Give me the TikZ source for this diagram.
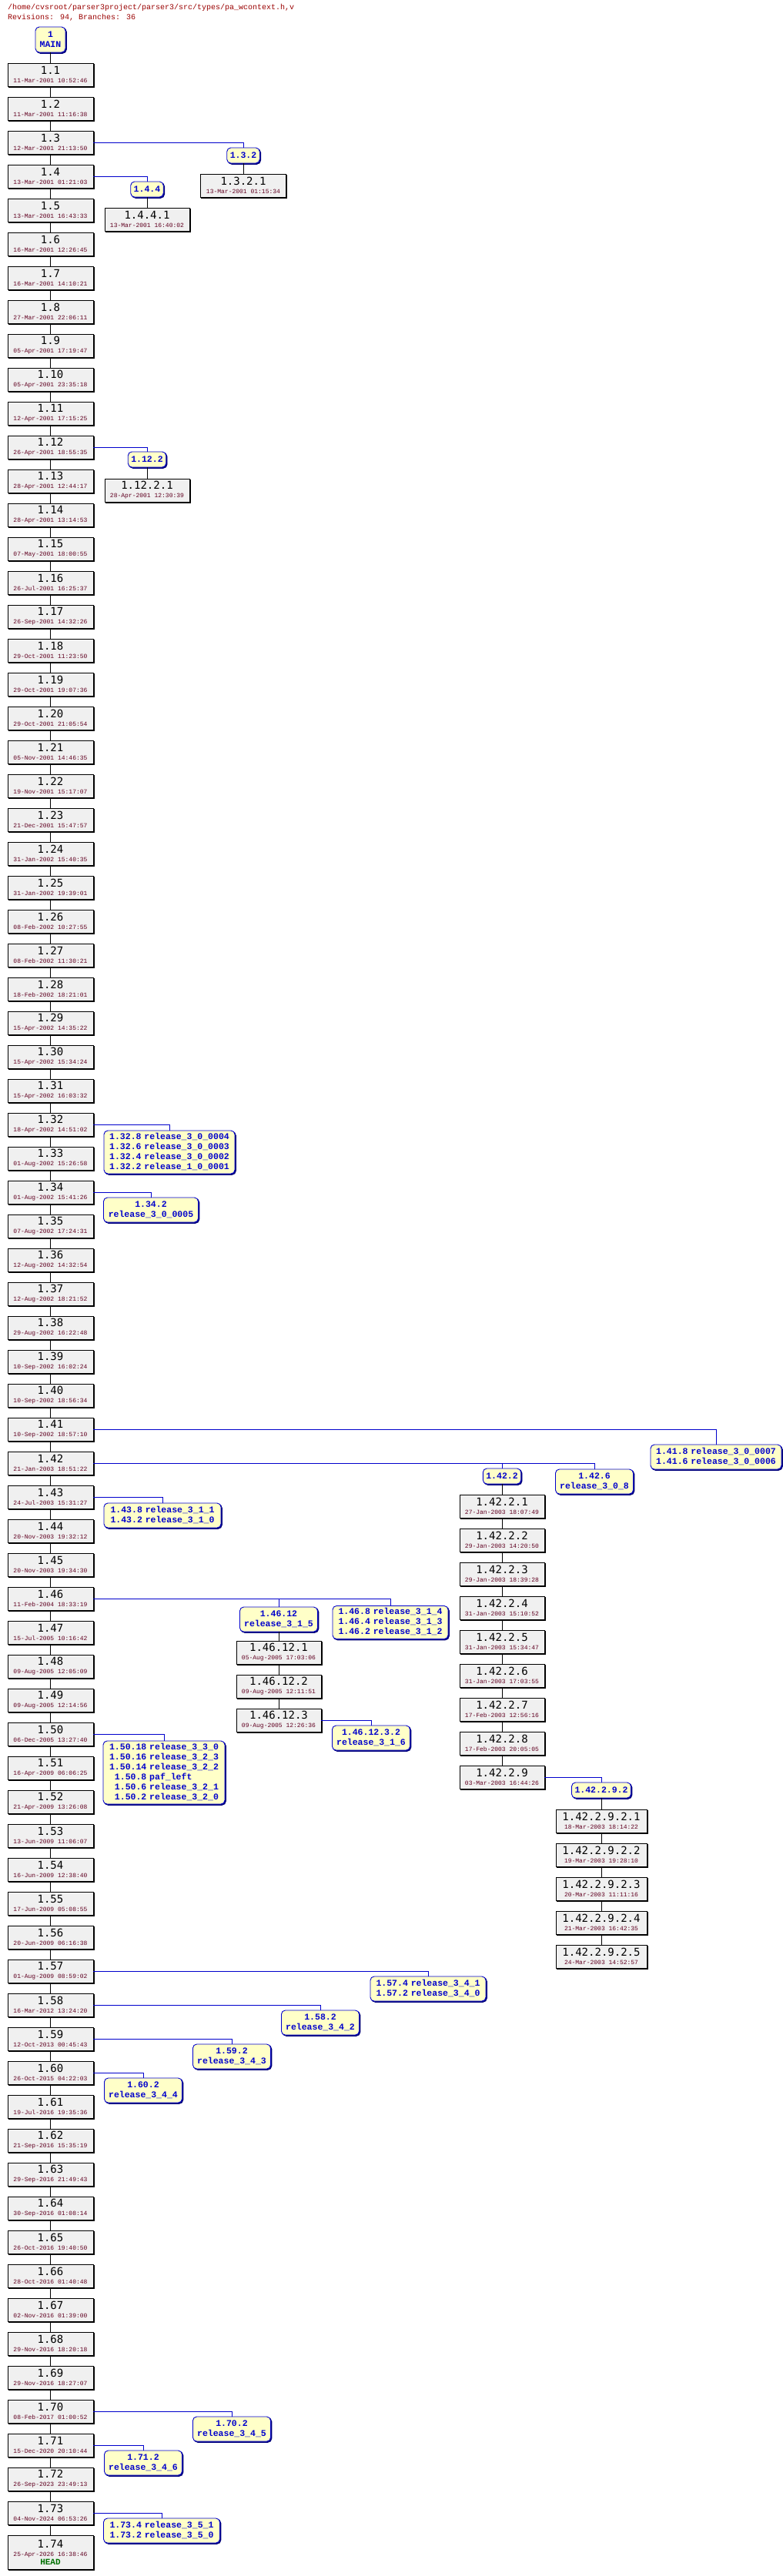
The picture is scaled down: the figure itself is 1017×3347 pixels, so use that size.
\documentclass[tikz,border=0pt]{standalone}
\usepackage{fontspec}
\newfontfamily\monof{Liberation Mono}
\newfontfamily\revf{DejaVu Sans Mono}
\definecolor{datecol}{HTML}{600020}
\definecolor{titlecol}{HTML}{990000}
\definecolor{tagfill}{HTML}{FFFFC8}
\definecolor{tagblue}{HTML}{0000CC}
\definecolor{revfill}{HTML}{F0F0F0}
\definecolor{headgreen}{HTML}{007000}
\newcommand\revtxt[2]{{\revf\fontsize{14}{15}\selectfont #1}\\[-1pt]{\monof\fontsize{8}{9}\selectfont\color{datecol}#2}}
\tikzset{
  revbox/.style={draw=black, line width=0.9pt, fill=revfill, inner sep=0pt, align=center,
    minimum height=30pt, minimum width=111pt,
    preaction={draw=black, fill=black, line width=0.9pt, transform canvas={shift={(1.3pt,-1.3pt)}}}},
  tagbox/.style={draw=tagblue, line width=0.9pt, fill=tagfill, rounded corners=5pt, inner xsep=4pt, inner ysep=2pt,
    align=center, text=tagblue, font=\monof\bfseries\fontsize{11.5}{13}\selectfont, minimum height=20pt,
    preaction={draw=tagblue!60!black, fill=tagblue!60!black, rounded corners=5pt, line width=0.9pt, transform canvas={shift={(1.3pt,-1.3pt)}}}},
  trunk/.style={draw=black, line width=0.8pt},
  br/.style={draw=tagblue, line width=0.8pt},
}
\newcommand\tagtab[1]{\begin{tabular}{@{}r@{\,\,}l@{}}#1\end{tabular}}
\begin{document}
\begin{tikzpicture}[x=1pt,y=-1pt]
\useasboundingbox (0,0) rectangle (1017,3347);
\node[anchor=north west, inner sep=0pt, align=left, text=titlecol, font=\monof\fontsize{10}{13}\selectfont] (title) at (10,5)
  {/home/cvsroot/parser3project/parser3/src/types/pa\_wcontext.h,v\\Revisions: 94, Branches: 36};
\node[tagbox, minimum width=39pt, minimum height=33pt] (main) at (65.5,51.5) {1\\MAIN};
\foreach \k/\d in {1/11-Mar-2001 10:52:46,2/11-Mar-2001 11:16:38,3/12-Mar-2001 21:13:50,4/13-Mar-2001 01:21:03,
5/13-Mar-2001 16:43:33,6/16-Mar-2001 12:26:45,7/16-Mar-2001 14:10:21,8/27-Mar-2001 22:06:11,9/05-Apr-2001 17:19:47,
10/05-Apr-2001 23:35:18,11/12-Apr-2001 17:15:25,12/26-Apr-2001 18:55:35,13/28-Apr-2001 12:44:17,14/28-Apr-2001 13:14:53,
15/07-May-2001 18:00:55,16/26-Jul-2001 16:25:37,17/26-Sep-2001 14:32:26,18/29-Oct-2001 11:23:50,19/29-Oct-2001 19:07:36,
20/29-Oct-2001 21:05:54,21/05-Nov-2001 14:46:35,22/19-Nov-2001 15:17:07,23/21-Dec-2001 15:47:57,24/31-Jan-2002 15:40:35,
25/31-Jan-2002 19:39:01,26/08-Feb-2002 10:27:55,27/08-Feb-2002 11:30:21,28/18-Feb-2002 18:21:01,29/15-Apr-2002 14:35:22,
30/15-Apr-2002 15:34:24,31/15-Apr-2002 16:03:32,32/18-Apr-2002 14:51:02,33/01-Aug-2002 15:26:58,34/01-Aug-2002 15:41:26,
35/07-Aug-2002 17:24:31,36/12-Aug-2002 14:32:54,37/12-Aug-2002 18:21:52,38/29-Aug-2002 16:22:48,39/10-Sep-2002 16:02:24,
40/10-Sep-2002 18:56:34,41/10-Sep-2002 18:57:10,42/21-Jan-2003 18:51:22,43/24-Jul-2003 15:31:27,44/20-Nov-2003 19:32:12,
45/20-Nov-2003 19:34:30,46/11-Feb-2004 18:33:19,47/15-Jul-2005 10:16:42,48/09-Aug-2005 12:05:09,49/09-Aug-2005 12:14:56,
50/06-Dec-2005 13:27:40,51/16-Apr-2009 06:06:25,52/21-Apr-2009 13:26:08,53/13-Jun-2009 11:06:07,54/16-Jun-2009 12:38:40,
55/17-Jun-2009 05:08:55,56/20-Jun-2009 06:16:38,57/01-Aug-2009 08:59:02,58/16-Mar-2012 13:24:20,59/12-Oct-2013 00:45:43,
60/26-Oct-2015 04:22:03,61/19-Jul-2016 19:35:36,62/21-Sep-2016 15:35:19,63/29-Sep-2016 21:49:43,64/30-Sep-2016 01:08:14,
65/26-Oct-2016 19:40:50,66/28-Oct-2016 01:40:48,67/02-Nov-2016 01:39:00,68/29-Nov-2016 18:20:18,69/29-Nov-2016 18:27:07,
70/08-Feb-2017 01:00:52,71/15-Dec-2020 20:10:44,72/26-Sep-2023 23:49:13,73/04-Nov-2024 06:53:26}
  {\node[revbox] (t\k) at (65.5,{97+(\k-1)*44}) {\revtxt{1.\k}{\d}};}
\node[revbox, minimum height=44pt] (t74) at (65.5,3316) {\revtxt{1.74}{25-Apr-2026 16:38:46}\\[-1pt]{\monof\bfseries\fontsize{11}{12}\selectfont\color{headgreen}HEAD}};
\draw[trunk] (main) -- (t1);
\foreach \k [remember=\k as \p (initially 1)] in {2,...,74} {\draw[trunk] (t\p) -- (t\k);}
% branch 1.3
\node[tagbox] (b132) at (316,202) {1.3.2};
\node[revbox] (r1321) at (316,241) {\revtxt{1.3.2.1}{13-Mar-2001 01:15:34}};
\draw[br] (t3.east) -| (b132.north); \draw[trunk] (b132) -- (r1321);
% 1.4
\node[tagbox] (b144) at (191,246) {1.4.4};
\node[revbox, minimum width=110pt] (r1441) at (191,285) {\revtxt{1.4.4.1}{13-Mar-2001 16:40:02}};
\draw[br] (t4.east) -| (b144.north); \draw[trunk] (b144) -- (r1441);
% 1.12
\node[tagbox] (b1122) at (191,597) {1.12.2};
\node[revbox, minimum width=110pt] (r11221) at (191,637) {\revtxt{1.12.2.1}{28-Apr-2001 12:30:39}};
\draw[br] (t12.east) -| (b1122.north); \draw[trunk] (b1122) -- (r11221);
% 1.32
\node[tagbox, minimum width=170pt] (b132t) at (220,1497) {\tagtab{1.32.8 & release\_3\_0\_0004\\1.32.6 & release\_3\_0\_0003\\1.32.4 & release\_3\_0\_0002\\1.32.2 & release\_1\_0\_0001}};
\draw[br] (t32.east) -| (b132t.north);
% 1.34
\node[tagbox, minimum width=123pt, minimum height=32pt] (b1342) at (196,1572) {1.34.2\\release\_3\_0\_0005};
\draw[br] (t34.east) -| (b1342.north);
% 1.41
\node[tagbox, minimum width=170pt, minimum height=32pt] (b141) at (930,1893) {\tagtab{1.41.8 & release\_3\_0\_0007\\1.41.6 & release\_3\_0\_0006}};
\draw[br] (t41.east) -| (b141.north);
% 1.42
\node[tagbox] (b1422) at (652,1918) {1.42.2};
\node[tagbox, minimum width=101pt, minimum height=32pt] (b1426) at (772,1925) {1.42.6\\release\_3\_0\_8};
\draw[br] (t42.east) -| (b1426.north);
\coordinate (j1422) at (b1422.north |- t42.east);
\draw[br] (j1422) -- (b1422.north);
\foreach \k/\d in {1/27-Jan-2003 18:07:49,2/29-Jan-2003 14:20:50,3/29-Jan-2003 18:39:28,4/31-Jan-2003 15:10:52,
5/31-Jan-2003 15:34:47,6/31-Jan-2003 17:03:55,7/17-Feb-2003 12:56:16,8/17-Feb-2003 20:05:05,9/03-Mar-2003 16:44:26}
  {\node[revbox, minimum width=110pt] (r14222\k) at (652,{1957+(\k-1)*44}) {\revtxt{1.42.2.\k}{\d}};}
\draw[trunk] (b1422) -- (r142221);
\foreach \k [remember=\k as \p (initially 1)] in {2,...,9} {\draw[trunk] (r14222\p) -- (r14222\k);}
\node[tagbox] (b14229) at (781,2326) {1.42.2.9.2};
\draw[br] (r142229.east) -| (b14229.north);
\foreach \k/\d in {1/18-Mar-2003 18:14:22,2/19-Mar-2003 19:28:10,3/20-Mar-2003 11:11:16,4/21-Mar-2003 16:42:35,5/24-Mar-2003 14:52:57}
  {\node[revbox, minimum width=118pt] (r142292\k) at (781,{2366+(\k-1)*44}) {\revtxt{1.42.2.9.2.\k}{\d}};}
\draw[trunk] (b14229) -- (r1422921);
\foreach \k [remember=\k as \p (initially 1)] in {2,...,5} {\draw[trunk] (r142292\p) -- (r142292\k);}
% 1.43
\node[tagbox, minimum width=152pt, minimum height=32pt] (b143) at (211,1969) {\tagtab{1.43.8 & release\_3\_1\_1\\1.43.2 & release\_3\_1\_0}};
\draw[br] (t43.east) -| (b143.north);
% 1.46
\node[tagbox, minimum width=101pt, minimum height=32pt] (b14612) at (362,2104) {1.46.12\\release\_3\_1\_5};
\node[tagbox, minimum width=150pt] (b1468) at (507,2108) {\tagtab{1.46.8 & release\_3\_1\_4\\1.46.4 & release\_3\_1\_3\\1.46.2 & release\_3\_1\_2}};
\draw[br] (t46.east) -| (b1468.north);
\coordinate (j14612) at (b14612.north |- t46.east);
\draw[br] (j14612) -- (b14612.north);
\foreach \k/\d in {1/05-Aug-2005 17:03:06,2/09-Aug-2005 12:11:51,3/09-Aug-2005 12:26:36}
  {\node[revbox, minimum width=110pt] (r14612\k) at (362,{2147+(\k-1)*44}) {\revtxt{1.46.12.\k}{\d}};}
\draw[trunk] (b14612) -- (r146121); \draw[trunk] (r146121) -- (r146122); \draw[trunk] (r146122) -- (r146123);
\node[tagbox, minimum width=101pt, minimum height=32pt] (b146123) at (482,2258) {1.46.12.3.2\\release\_3\_1\_6};
\draw[br] (r146123.east) -| (b146123.north);
% 1.50
\node[tagbox, minimum width=158pt] (b150) at (213,2303) {\tagtab{1.50.18 & release\_3\_3\_0\\1.50.16 & release\_3\_2\_3\\1.50.14 & release\_3\_2\_2\\1.50.8 & paf\_left\\1.50.6 & release\_3\_2\_1\\1.50.2 & release\_3\_2\_0}};
\draw[br] (t50.east) -| (b150.north);
% 1.57 - 1.60
\node[tagbox, minimum width=150pt, minimum height=32pt] (b157) at (556,2584) {\tagtab{1.57.4 & release\_3\_4\_1\\1.57.2 & release\_3\_4\_0}};
\draw[br] (t57.east) -| (b157.north);
\node[tagbox, minimum width=101pt, minimum height=32pt] (b158) at (416,2628) {1.58.2\\release\_3\_4\_2};
\draw[br] (t58.east) -| (b158.north);
\node[tagbox, minimum width=101pt, minimum height=32pt] (b159) at (301,2672) {1.59.2\\release\_3\_4\_3};
\draw[br] (t59.east) -| (b159.north);
\node[tagbox, minimum width=101pt, minimum height=32pt] (b160) at (186,2716) {1.60.2\\release\_3\_4\_4};
\draw[br] (t60.east) -| (b160.north);
% 1.70 1.71 1.73
\node[tagbox, minimum width=101pt, minimum height=32pt] (b170) at (301,3156) {1.70.2\\release\_3\_4\_5};
\draw[br] (t70.east) -| (b170.north);
\node[tagbox, minimum width=101pt, minimum height=32pt] (b171) at (186,3200) {1.71.2\\release\_3\_4\_6};
\draw[br] (t71.east) -| (b171.north);
\node[tagbox, minimum width=151pt, minimum height=32pt] (b173) at (210,3288) {\tagtab{1.73.4 & release\_3\_5\_1\\1.73.2 & release\_3\_5\_0}};
\draw[br] (t73.east) -| (b173.north);
\end{tikzpicture}
\end{document}
